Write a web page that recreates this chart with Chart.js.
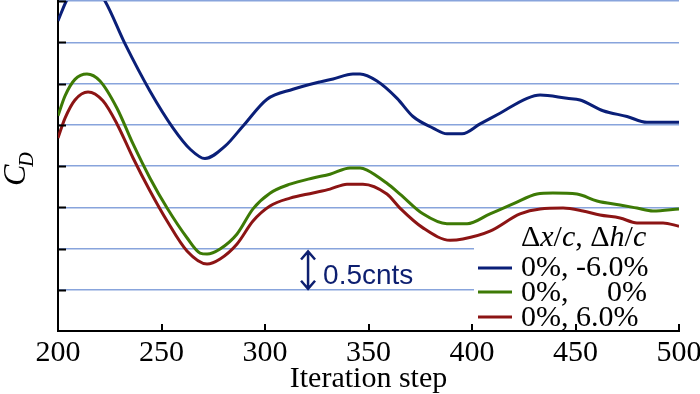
<!DOCTYPE html>
<html>
<head>
<meta charset="utf-8">
<script src="https://cdn.jsdelivr.net/npm/chart.js@4"></script>
<style>
  body { margin: 0; background: #fff; }
  canvas { display: block; }
</style>
</head>
<body>
<canvas id="cdChart" width="700" height="394"></canvas>
<script>
// iteration steps and drag values (grid step = 0.5 counts)
const stepsBlue = [200, 204, 212, 222.7, 232.4, 244.4, 255.6, 264, 271, 280.7, 289.4, 301, 313.5, 326.6, 332.9, 342.5, 345.9, 354.1, 363.8, 371.5, 381.2, 387.9, 395.2, 403.9, 413.5, 426.6, 432.9, 445.9, 452.2, 463.3, 474.9, 484.5, 492.3, 500];
const cdBlue = [3.76, 4.0, 4.35, 4.0, 3.48, 2.91, 2.46, 2.2, 2.09, 2.24, 2.485, 2.81, 2.93, 3.02, 3.055, 3.115, 3.115, 3.03, 2.82, 2.6, 2.46, 2.39, 2.39, 2.51, 2.64, 2.82, 2.86, 2.82, 2.8, 2.67, 2.6, 2.53, 2.53, 2.53];

const stepsGreen = [200, 203.4, 208.2, 214, 220.3, 228.5, 236.2, 244.4, 252.7, 262.3, 268.6, 272, 278.3, 286.5, 294.2, 302.4, 312.1, 323.2, 331.4, 341.1, 345.9, 349.3, 358.9, 365.2, 376.3, 387.9, 397.6, 408.7, 419.8, 431.4, 439.1, 450.7, 460.4, 471.5, 479.7, 487.4, 500];
const cdGreen = [2.61, 2.85, 3.05, 3.115, 3.03, 2.70, 2.27, 1.855, 1.49, 1.13, 0.945, 0.933, 0.994, 1.176, 1.48, 1.67, 1.78, 1.855, 1.90, 1.976, 1.976, 1.95, 1.79, 1.66, 1.42, 1.30, 1.30, 1.42, 1.54, 1.66, 1.673, 1.66, 1.576, 1.527, 1.49, 1.455, 1.48];

const stepsRed = [200, 203.4, 208.2, 214.5, 221.7, 228.5, 236.2, 244.4, 252.7, 262.3, 272, 278.3, 286.5, 294.2, 302.4, 312.1, 323.2, 331.4, 339.6, 347.3, 358.9, 365.2, 376.3, 389.4, 395.6, 408.7, 423.2, 432.9, 444, 453.6, 461.8, 471.5, 479.7, 492.3, 500];
const cdRed = [2.34, 2.58, 2.8, 2.897, 2.79, 2.51, 2.10, 1.70, 1.333, 0.97, 0.812, 0.873, 1.055, 1.333, 1.515, 1.61, 1.673, 1.72, 1.78, 1.78, 1.66, 1.49, 1.25, 1.10, 1.115, 1.21, 1.42, 1.48, 1.49, 1.455, 1.406, 1.37, 1.31, 1.31, 1.27];

const xTicks = [200, 250, 300, 350, 400, 450, 500];
const legendLabels = ['0%, -6.0%', '0%,      0%', '0%, 6.0%'];
const colors = ['#0a1f78', '#3d7a05', '#8c1414'];

function toPoints(xs, ys) {
  return xs.map((x, i) => ({ x: x, y: ys[i] }));
}

const serif = '"Liberation Serif", "Times New Roman", serif';

const decorPlugin = {
  id: 'decor',
  beforeDatasetsDraw(chart) {
    const ctx = chart.ctx;
    const a = chart.chartArea;
    // white box behind the legend
    ctx.save();
    ctx.fillStyle = '#fff';
    ctx.fillRect(474, 229, a.right - 474 + 1, a.bottom - 229 - 1);
    ctx.restore();
  },
  afterDatasetsDraw(chart) {
    const ctx = chart.ctx;
    const a = chart.chartArea;
    const xs = chart.scales.x;
    const ys = chart.scales.y;
    ctx.save();
    // inner tick marks
    ctx.strokeStyle = '#000';
    ctx.lineWidth = 2;
    ctx.beginPath();
    for (let v = 0.5; v <= 4; v += 0.5) {
      const py = Math.round(ys.getPixelForValue(v)) + 0.5;
      ctx.moveTo(a.left, py);
      ctx.lineTo(a.left + 8, py);
    }
    xTicks.slice(1).forEach(t => {
      const px = Math.round(xs.getPixelForValue(t));
      ctx.moveTo(px, a.bottom);
      ctx.lineTo(px, a.bottom - 7);
    });
    ctx.stroke();

    // legend
    const lx = 521;
    ctx.fillStyle = '#000';
    ctx.textBaseline = 'alphabetic';
    let cx = lx;
    const parts = [['\u0394', false], ['x', true], ['/', false], ['c', true], [', \u0394', false], ['h', true], ['/', false], ['c', true]];
    parts.forEach(p => {
      ctx.font = (p[1] ? 'italic ' : '') + '30px ' + serif;
      ctx.fillText(p[0], cx, 246);
      cx += ctx.measureText(p[0]).width;
    });
    const rowY = [268, 292, 317];
    const baseY = [276, 301, 326];
    ctx.font = '30px ' + serif;
    rowY.forEach((y, i) => {
      ctx.strokeStyle = colors[i];
      ctx.lineWidth = 3;
      ctx.beginPath();
      ctx.moveTo(478, y);
      ctx.lineTo(512, y);
      ctx.stroke();
      if (i === 1) {
        ctx.textAlign = 'left';
        ctx.fillText('0%,', lx, baseY[i]);
        ctx.textAlign = 'right';
        ctx.fillText('0%', 647, baseY[i]);
        ctx.textAlign = 'left';
      } else {
        ctx.fillText(legendLabels[i], lx, baseY[i]);
      }
    });

    // 0.5 counts scale arrow
    const ax = xs.getPixelForValue(320.8);
    const y1 = ys.getPixelForValue(1.0) + 3;
    const y2 = ys.getPixelForValue(0.5) - 1;
    ctx.strokeStyle = '#0d1f70';
    ctx.lineWidth = 2.5;
    ctx.beginPath();
    ctx.moveTo(ax, y1);
    ctx.lineTo(ax, y2);
    ctx.moveTo(ax - 7, y1 + 8);
    ctx.lineTo(ax, y1);
    ctx.lineTo(ax + 7, y1 + 8);
    ctx.moveTo(ax - 7, y2 - 8);
    ctx.lineTo(ax, y2);
    ctx.lineTo(ax + 7, y2 - 8);
    ctx.stroke();
    ctx.fillStyle = '#0d1f70';
    ctx.font = '28px "Liberation Sans Narrow", "Liberation Sans", Arial, sans-serif';
    ctx.fillText('0.5cnts', ax + 15, 284);

    // y axis title C_D
    ctx.translate(25, 170);
    ctx.rotate(-Math.PI / 2);
    ctx.fillStyle = '#000';
    ctx.font = 'italic 32px ' + serif;
    ctx.textAlign = 'left';
    ctx.fillText('C', -16, 0);
    const cw = ctx.measureText('C').width;
    ctx.font = 'italic 20px ' + serif;
    ctx.fillText('D', -16 + cw - 2, 8);
    ctx.restore();
  }
};

new Chart(document.getElementById('cdChart'), {
  type: 'line',
  data: {
    datasets: [
      { data: toPoints(stepsBlue, cdBlue), borderColor: colors[0] },
      { data: toPoints(stepsGreen, cdGreen), borderColor: colors[1] },
      { data: toPoints(stepsRed, cdRed), borderColor: colors[2] }
    ].map(d => Object.assign(d, {
      borderWidth: 3,
      pointRadius: 0,
      fill: false,
      cubicInterpolationMode: 'monotone'
    }))
  },
  options: {
    responsive: false,
    animation: false,
    layout: { padding: { left: 58, right: 21, top: 1, bottom: 0 } },
    plugins: {
      legend: { display: false },
      tooltip: { enabled: false }
    },
    scales: {
      x: {
        type: 'linear',
        min: 200,
        max: 500,
        afterBuildTicks: s => { s.ticks = xTicks.map(v => ({ value: v })); },
        afterFit: s => { s.height = 63; },
        grid: { display: false },
        border: { display: true, color: '#000', width: 2 },
        ticks: {
          color: '#000',
          font: { family: serif, size: 30 },
          padding: -4,
          maxRotation: 0
        },
        title: {
          display: true,
          text: 'Iteration step',
          color: '#000',
          font: { family: serif, size: 30 },
          padding: { top: 0, bottom: -3 }
        }
      },
      y: {
        min: 0,
        max: 4,
        afterFit: s => { s.width = 0; },
        ticks: { display: false, stepSize: 0.5 },
        grid: { color: '#88a4dc', lineWidth: 1.5, drawTicks: false },
        border: { display: true, color: '#000', width: 2 }
      }
    }
  },
  plugins: [decorPlugin]
});
</script>
</body>
</html>
